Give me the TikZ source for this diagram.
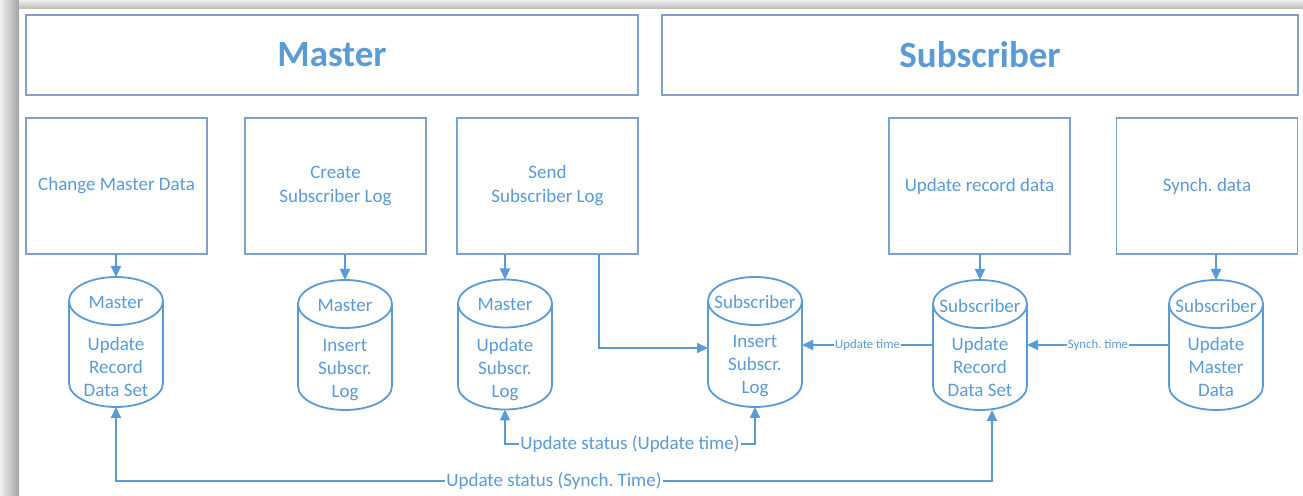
\documentclass[tikz,border=0pt]{standalone}
\usepackage{fontspec}
\setmainfont{Carlito}
\usetikzlibrary{arrows.meta}
\definecolor{accent}{HTML}{5B9BD5}
\definecolor{frame}{HTML}{7EA0CB}

% outline of a database cylinder drawn round a named (invisible) node
\newcommand\cylinderoutline[1]{%
  \draw[wire] ([yshift=-24pt]#1.north west) -- ([yshift=24pt]#1.south west)
     arc[start angle=180, end angle=360, x radius=47pt, y radius=24pt]
     -- ([yshift=-24pt]#1.north east);
  \draw[wire] ([yshift=-24pt]#1.north) ellipse[x radius=47pt, y radius=24pt];}

\begin{document}
\frenchspacing
\begin{tikzpicture}[x=1pt,y=1pt,
  header/.style={draw=frame, line width=1.3pt, minimum width=#1, minimum height=80pt,
    inner sep=0pt, outer sep=0pt, font=\fontsize{37}{40}\selectfont\bfseries, text=accent},
  stepbox/.style={draw=frame, line width=1.3pt, minimum width=181pt, minimum height=136pt,
    inner sep=0pt, outer sep=0pt, align=center, font=\fontsize{19}{24}\selectfont, text=accent},
  cylbody/.style={minimum width=94pt, minimum height=130pt, inner sep=0pt, outer sep=0pt},
  cyltext/.style={align=center, font=\fontsize{19}{23}\selectfont, text=accent, inner sep=0pt},
  wire/.style={draw=accent, line width=1.8pt},
  tip/.style={-{Triangle[length=11pt,width=10pt]}},
  bothtips/.style={{Triangle[length=11pt,width=10pt]}-{Triangle[length=11pt,width=10pt]}},
  lbl/.style={fill=white, inner sep=1pt, text=accent, font=\fontsize{19}{22}\selectfont},
  small/.style={fill=white, inner sep=1pt, text=accent, font=\fontsize{12.8}{14}\selectfont}
]
\useasboundingbox (0,0) rectangle (1303,495);

% page with its drop shadow
\fill[white] (19,0) rectangle (1303,486);
\shade[left color=gray!12, right color=gray!72] (0,0) rectangle (19,495);
\shade[top color=gray!12, bottom color=gray!55] (19,486) rectangle (1303,495);

% column headers
\node[header=612pt] (hm) at (332,440) {Master};
\node[header=636pt] (hs) at (980,440) {Subscriber};

% process steps
\node[stepbox] (b1) at (116.5,309) {Change Master Data};
\node[stepbox] (b2) at (335.5,309) {Create\\Subscriber Log};
\node[stepbox] (b3) at (547.5,309) {Send\\Subscriber Log};
\node[stepbox] (b4) at (979.5,309) {Update record data};
\node[stepbox] (b5) at (1207,309) {Synch. data};

% data stores
\node[cylbody] (c1) at (116,153) {};
\node[cylbody] (c2) at (345,150) {};
\node[cylbody] (c3) at (505,150.5) {};
\node[cylbody] (c4) at (755,153) {};
\node[cylbody] (c5) at (980,150) {};
\node[cylbody] (c6) at (1216,150) {};
\cylinderoutline{c1}
\cylinderoutline{c2}
\cylinderoutline{c3}
\cylinderoutline{c4}
\cylinderoutline{c5}
\cylinderoutline{c6}

\node[cyltext] at ([yshift=-25pt]c1.north) {Master};
\node[cyltext] at ([yshift=-90pt]c1.north) {Update\\Record\\Data Set};
\node[cyltext] at ([yshift=-25pt]c2.north) {Master};
\node[cyltext] at ([yshift=-90pt]c2.north) {Insert\\Subscr.\\Log};
\node[cyltext] at ([yshift=-25pt]c3.north) {Master};
\node[cyltext] at ([yshift=-90pt]c3.north) {Update\\Subscr.\\Log};
\node[cyltext] at ([yshift=-25pt]c4.north) {Subscriber};
\node[cyltext] at ([yshift=-89pt]c4.north) {Insert\\Subscr.\\Log};
\node[cyltext] at ([yshift=-26pt]c5.north) {Subscriber};
\node[cyltext] at ([yshift=-87pt]c5.north) {Update\\Record\\Data Set};
\node[cyltext] at ([yshift=-26pt]c6.north) {Subscriber};
\node[cyltext] at ([yshift=-87pt]c6.north) {Update\\Master\\Data};

% step -> store
\draw[wire,tip] (c1.north |- b1.south) -- (c1.north);
\draw[wire,tip] (c2.north |- b2.south) -- (c2.north);
\draw[wire,tip] (c3.north |- b3.south) -- (c3.north);
\draw[wire,tip] (c5.north |- b4.south) -- (c5.north);
\draw[wire,tip] (c6.north |- b5.south) -- (c6.north);

% sending the log to the subscriber
\draw[wire,tip] ([xshift=51.5pt]b3.south) |- ([yshift=-6pt]c4.west);

% time stamps passed between stores
\draw[wire,tip] (c5.west) -- node[small]{Update time} (c5.west -| c4.east);
\draw[wire,tip] (c6.west) -- node[small]{Synch. time} (c6.west -| c5.east);

% status feedback lanes
\coordinate (lane1) at (0,51);
\coordinate (lane2) at (0,14);
\coordinate (c5foot) at ([xshift=12pt]c5.south);
\draw[wire,bothtips] (c3.south) -- (c3.south |- lane1)
  -- node[lbl]{Update status (Update time)} (c4.south |- lane1) -- (c4.south);
\draw[wire,bothtips] (c1.south) -- (c1.south |- lane2)
  -- node[lbl]{Update status (Synch. Time)} (c5foot |- lane2) -- (c5foot);
\end{tikzpicture}
\end{document}
